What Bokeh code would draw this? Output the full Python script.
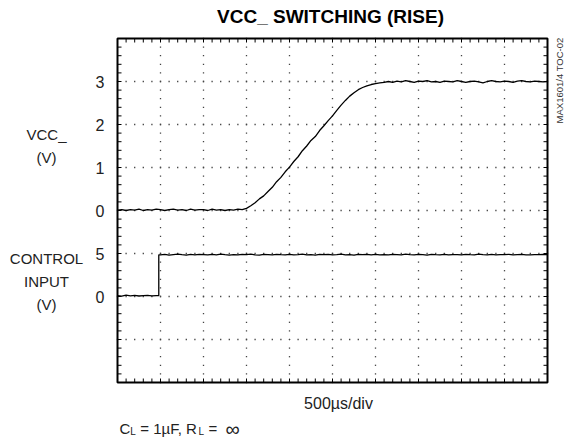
import math
import numpy as np
from bokeh.plotting import figure
from bokeh.models import Range1d
from bokeh.core.properties import value
from bokeh.embed import file_html
from bokeh.resources import INLINE

# ---------------- data ----------------
TIME_PER_DIV = 500          # µs/div
N_XDIV = 10
N_YDIV = 8
VCC_ZERO_DIV = 4            # VCC_ trace 0 V position (div from bottom)
VCC_V_PER_DIV = 1.0
CTRL_ZERO_DIV = 2           # control trace 0 V position
CTRL_V_PER_DIV = 5.0

vcc_dt = 50  # µs sample spacing
vcc_v = [
    0.01, 0.02, 0.00, 0.02, 0.01, 0.03, 0.00, 0.02, 0.01, 0.03,
    0.02, 0.00, 0.02, 0.03, 0.01, 0.02, 0.00, 0.03, 0.01, 0.02,
    0.02, 0.00, 0.03, 0.01, 0.02, 0.00, 0.02, 0.01, 0.03, 0.02,
    0.05, 0.11, 0.18, 0.27, 0.34, 0.44, 0.54, 0.67, 0.77, 0.90,
    1.01, 1.14, 1.25, 1.39, 1.50, 1.63, 1.72, 1.86, 1.97, 2.09,
    2.20, 2.33, 2.45, 2.56, 2.66, 2.74, 2.81, 2.86, 2.90, 2.93,
    2.95, 2.97, 2.98,
    3.00, 2.98, 3.01, 2.99, 3.02, 3.00, 2.98, 3.01, 3.00, 3.02,
    2.99, 3.00, 2.98, 3.01, 3.00, 2.99, 3.02, 3.00, 2.98, 3.00,
    3.01, 2.99, 2.97, 3.00, 3.02, 3.00, 2.99, 3.01, 3.00, 2.98,
    3.01, 3.02, 3.00, 2.99, 3.01, 3.00, 2.99, 3.00,
]

ctrl_t = [0, 50, 100, 150, 200, 250, 300, 350, 400, 450, 480, 480] + \
         list(range(500, 5001, 50))
ctrl_v = [
    0.10, 0.05, 0.15, 0.08, 0.12, 0.06, 0.10, 0.14, 0.07, 0.11, 0.10, 4.85,
    4.85, 4.90, 4.82, 4.88, 4.93, 4.86, 4.80, 4.89, 4.84, 4.91,
    4.87, 4.83, 4.90, 4.85, 4.92, 4.86, 4.81, 4.88, 4.84, 4.90,
    4.86, 4.93, 4.85, 4.82, 4.89, 4.87, 4.84, 4.91, 4.86, 4.83,
    4.90, 4.85, 4.88, 4.92, 4.84, 4.87, 4.81, 4.89, 4.86, 4.90,
    4.84, 4.88, 4.93, 4.85, 4.87, 4.82, 4.90, 4.86, 4.89, 4.84,
    4.91, 4.85, 4.87, 4.83, 4.90, 4.88, 4.85, 4.92, 4.86, 4.84,
    4.89, 4.86, 4.82, 4.90, 4.87, 4.85, 4.91, 4.84, 4.88, 4.86,
    4.83, 4.90, 4.87, 4.85, 4.92, 4.86, 4.84, 4.89, 4.85, 4.88,
    4.86, 4.91, 4.84, 4.87, 4.90, 4.85, 4.83, 4.88, 4.86, 4.90,
    4.87,
]

ytick_divs = [2, 3, 4, 5, 6, 7]
ytick_labels = ["0", "5", "0", "1", "2", "3"]

title_text = "VCC_ SWITCHING (RISE)"
xlabel_text = "500µs/div"
watermark = "MAX1601/4 TOC-02"

# ---------------- geometry ----------------
W, H = 566, 447
FL, FR, FT, FB = 117, 547, 38, 382      # scope screen box in page pixels
XMAX = TIME_PER_DIV * N_XDIV
PX_X = XMAX / (FR - FL)                 # µs per pixel
PX_Y = N_YDIV / (FB - FT)               # div per pixel

def px_x(page_x):
    return (page_x - FL) * PX_X

def px_y(page_y):
    return N_YDIV - (page_y - FT) * PX_Y

FONT = "Liberation Sans, sans-serif"

p = figure(width=W, height=H, x_range=Range1d(px_x(0), px_x(W)),
           y_range=Range1d(px_y(H), px_y(0)),
           output_backend="svg", toolbar_location=None,
           x_axis_location=None, y_axis_location=None, min_border=0)
p.grid.visible = False
p.outline_line_color = None
p.background_fill_color = "white"
p.border_fill_color = "white"

# graticule dots (5 per division)
gx, gy = [], []
for j in range(1, N_YDIV):
    for k in range(N_XDIV * 5 + 1):
        gx.append(k * TIME_PER_DIV / 5); gy.append(j)
for i in range(1, N_XDIV):
    for k in range(N_YDIV * 5 + 1):
        gx.append(i * TIME_PER_DIV); gy.append(k / 5)
p.scatter(gx, gy, marker="square", size=1.3, line_color=None, fill_color="#444444")

# border ticks (inward)
tl = 4  # px
x0s, y0s, x1s, y1s = [], [], [], []
for k in range(1, N_XDIV * 5):
    t = k * TIME_PER_DIV / 5
    x0s += [t, t]; x1s += [t, t]
    y0s += [0, N_YDIV]; y1s += [tl * PX_Y, N_YDIV - tl * PX_Y]
for k in range(1, N_YDIV * 5):
    d = k / 5
    y0s += [d, d]; y1s += [d, d]
    x0s += [0, XMAX]; x1s += [tl * PX_X, XMAX - tl * PX_X]
p.segment(x0s, y0s, x1s, y1s, line_color="black", line_width=1)

# screen box
p.quad(left=[0], right=[XMAX], bottom=[0], top=[N_YDIV], fill_color=None,
       line_color="black", line_width=2)

# traces
vcc_t = [i * vcc_dt for i in range(len(vcc_v))]
vcc_y = [VCC_ZERO_DIV + v / VCC_V_PER_DIV for v in vcc_v]
ctrl_y = [CTRL_ZERO_DIV + v / CTRL_V_PER_DIV for v in ctrl_v]
p.line(vcc_t, vcc_y, line_color="black", line_width=1.3)
p.line(ctrl_t, ctrl_y, line_color="black", line_width=1.3)

# ---------------- texts ----------------
def txt(text, x, y, size="15px", align="center", baseline="middle", bold=False,
        angle=0, color="#222222", xo=0, yo=0):
    p.text(x=[x], y=[y], text=[text], text_font=value(FONT), text_font_size=size,
           text_align=align, text_baseline=baseline, angle=angle,
           text_font_style="bold" if bold else "normal",
           text_color=color, x_offset=xo, y_offset=yo)

# y tick labels
for d, s in zip(ytick_divs, ytick_labels):
    txt(s, px_x(104), d, size="16px", align="right")

txt(title_text, px_x(330), px_y(16), size="19px", bold=True, color="black")
txt("VCC_", px_x(46), px_y(134))
txt("(V)", px_x(46), px_y(157))
txt("CONTROL", px_x(46), px_y(258))
txt("INPUT", px_x(46), px_y(281))
txt("(V)", px_x(46), px_y(304))
txt(xlabel_text, px_x(338), px_y(403), size="16px")
txt(watermark, px_x(559), px_y(80), size="9.5px", angle=math.pi / 2, color="#333333")

# C_L = 1µF, R_L = ∞  (pieces placed side by side; no leading spaces)
bx, by = px_x(119), px_y(428)
txt("C", bx, by, align="left", baseline="alphabetic")
txt("L", bx, by, size="10px", align="left", baseline="alphabetic", xo=10.8, yo=3)
txt("= 1µF, R", bx, by, align="left", baseline="alphabetic", xo=20.8)
txt("L", bx, by, size="10px", align="left", baseline="alphabetic", xo=79.0, yo=3)
txt("=", bx, by, align="left", baseline="alphabetic", xo=89.0)
txt("∞", bx, by, size="20px", align="left", baseline="alphabetic", xo=106)

open("out.html", "w").write(file_html(p, INLINE))
